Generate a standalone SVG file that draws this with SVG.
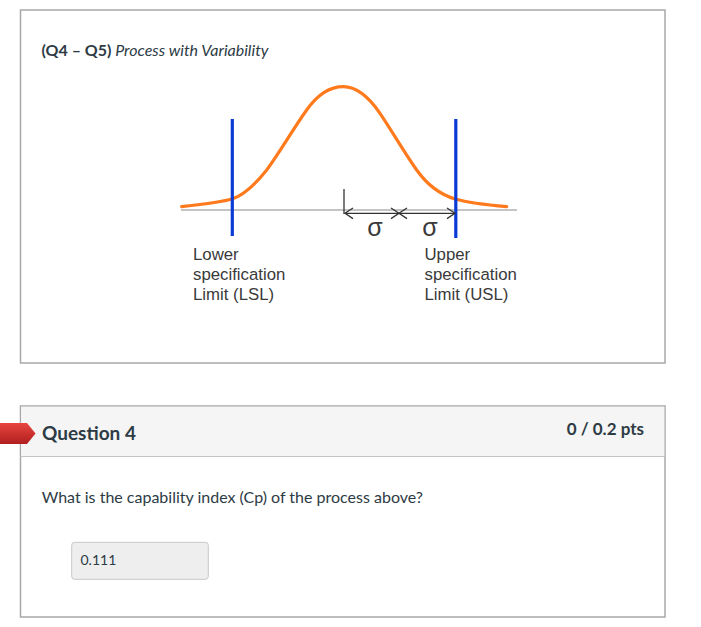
<svg xmlns="http://www.w3.org/2000/svg" width="701" height="627" viewBox="0 0 701 627">
<style>
.box{fill:#fff;stroke:#a8a8a8;stroke-width:1.5}
.lbl{font-family:"Liberation Sans",Arial,sans-serif;font-size:16.8px;fill:#3a3a3a}
.sig{font-family:"Liberation Sans",Arial,sans-serif;font-size:25px;fill:#3a3a3a}
.lato{font-family:Lato,"Open Sans",sans-serif;fill:#2d3b45}
.blue{stroke:#0a3ad6;stroke-width:3.2;fill:none}
.ar{stroke:#333;stroke-width:1.3;fill:none}
</style>
<defs>
<linearGradient id="rg" x1="0" y1="0" x2="0" y2="1">
<stop offset="0" stop-color="#e8453f"/>
<stop offset="1" stop-color="#b01f1f"/>
</linearGradient>
</defs>
<rect width="701" height="627" fill="#fff"/>
<g id="figure-panel">
<rect class="box" x="20.5" y="10" width="644.5" height="353"/>
<text class="lato" x="41.5" y="56" font-size="16"><tspan font-weight="bold">(Q4 – Q5)</tspan><tspan font-style="italic"> Process with Variability</tspan></text>
</g>
<g id="chart">
<line x1="181" y1="210" x2="517" y2="210" stroke="#8a8a8a" stroke-width="1.2"/>
<path d="M181.7,206.7 C205,204 222,202 232,199 C242,196 254,186 266.7,170 C280,152 295,126 306.7,110 C318,94 330,86.7 343.3,86.7 C356,86.7 368,96 380,113.3 C392,131 404,152 416.7,170 C428,186 442,195 455,199 C466,202 488,205 506.7,206.7" fill="none" stroke="#ff7a1c" stroke-width="3.2" stroke-linecap="round"/>
<line class="blue" x1="232.3" y1="119" x2="232.3" y2="236"/>
<line class="blue" x1="455.8" y1="119" x2="455.8" y2="238"/>
</g>
<g id="connectors">
<line class="ar" x1="344" y1="189" x2="344" y2="214"/>
<line class="ar" x1="345" y1="213.3" x2="455" y2="213.3"/>
<polyline class="ar" points="353,208 345,213.3 353,218.6"/>
<polyline class="ar" points="391,208 399,213.3 391,218.6"/>
<polyline class="ar" points="407,208 399,213.3 407,218.6"/>
<polyline class="ar" points="447,208 455,213.3 447,218.6"/>
</g>
<g id="sigma-labels">
<text class="sig" x="375" y="235.5" text-anchor="middle">σ</text>
<text class="sig" x="430" y="235.5" text-anchor="middle">σ</text>
</g>
<g id="lsl-label">
<text class="lbl" x="193" y="259.5">Lower</text>
<text class="lbl" x="193" y="279.5">specification</text>
<text class="lbl" x="193" y="299.8">Limit (LSL)</text>
</g>
<g id="usl-label">
<text class="lbl" x="424.5" y="259.5">Upper</text>
<text class="lbl" x="424.5" y="279.5">specification</text>
<text class="lbl" x="424.5" y="299.8">Limit (USL)</text>
</g>
<g id="question-4">
<rect class="box" x="20.5" y="406" width="644.5" height="211"/>
<rect x="21.2" y="406.7" width="643.1" height="49.5" fill="#f5f5f5"/>
<line x1="20.5" y1="456.5" x2="665" y2="456.5" stroke="#c4c4c4" stroke-width="1.2"/>
<polygon points="0,423 27,423 35.5,433.5 27,444 0,444" fill="url(#rg)"/>
<text class="lato" x="42" y="439.5" font-size="19" font-weight="bold">Question 4</text>
<text class="lato" x="644" y="435" font-size="17" font-weight="bold" text-anchor="end">0 / 0.2 pts</text>
<text class="lato" x="41.7" y="503" font-size="16">What is the capability index (Cp) of the process above?</text>
<rect x="71.7" y="542.3" width="136.6" height="37" rx="3" fill="#eeeeee" stroke="#c8c8c8" stroke-width="1"/>
<text class="lato" x="80.5" y="565" font-size="14">0.111</text>
</g>
</svg>
